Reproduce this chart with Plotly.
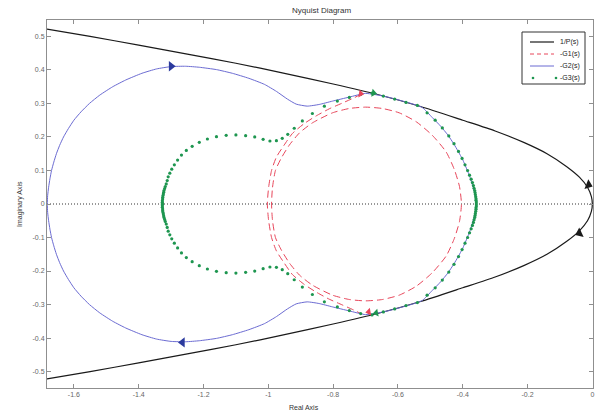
import plotly.graph_objects as go

# ---------------- text ----------------
TITLE = "Nyquist Diagram"
X_LABEL = "Real Axis"
Y_LABEL = "Imaginary Axis"
SERIES = ["1/P(s)", "-G1(s)", "-G2(s)", "-G3(s)"]

X_TICKS = [-1.6, -1.4, -1.2, -1.0, -0.8, -0.6, -0.4, -0.2, 0.0]
X_TICK_TEXT = ["-1.6", "-1.4", "-1.2", "-1", "-0.8", "-0.6", "-0.4", "-0.2", "0"]
Y_TICKS = [-0.5, -0.4, -0.3, -0.2, -0.1, 0.0, 0.1, 0.2, 0.3, 0.4, 0.5]
Y_TICK_TEXT = ["-0.5", "-0.4", "-0.3", "-0.2", "-0.1", "0", "0.1", "0.2", "0.3", "0.4", "0.5"]

# ---------------- data (positive-imaginary half; the other half is the complex conjugate) ----------------
# 1/P(s)
P_RE = [-1.683, -1.55, -1.40, -1.25, -1.10, -0.95, -0.80, -0.66, -0.53, -0.40, -0.30,
        -0.21, -0.14, -0.08, -0.04, -0.015, -0.003, 0.0]
P_IM = [0.522, 0.50, 0.474, 0.447, 0.42, 0.39, 0.358, 0.326, 0.291, 0.25, 0.218,
        0.183, 0.15, 0.112, 0.08, 0.05, 0.022, 0.0]

# -G1(s): inner loop
G1_IN_RE = [-0.99, -0.987, -0.978, -0.96, -0.935, -0.904, -0.864, -0.802, -0.75, -0.70,
            -0.648, -0.596, -0.543, -0.494, -0.451, -0.426, -0.41, -0.404]
G1_IN_IM = [0.0, 0.05, 0.10, 0.137, 0.176, 0.212, 0.242, 0.272, 0.285, 0.289,
            0.285, 0.272, 0.245, 0.205, 0.155, 0.103, 0.052, 0.0]
# -G1(s): outer arc
G1_OUT_RE = [-1.003, -0.999, -0.99, -0.975, -0.951, -0.926, -0.889, -0.852, -0.812,
             -0.772, -0.735, -0.713]
G1_OUT_IM = [0.0, 0.05, 0.10, 0.14, 0.176, 0.21, 0.24, 0.263, 0.284, 0.301, 0.317, 0.328]

# -G2(s)
G2_RE = [-1.682, -1.681, -1.678, -1.674, -1.669, -1.662, -1.654, -1.644, -1.632, -1.617,
         -1.60, -1.578, -1.552, -1.52, -1.48, -1.44, -1.39, -1.345, -1.30, -1.255,
         -1.213, -1.16, -1.111, -1.06, -1.012, -0.975, -0.941, -0.914, -0.88, -0.843,
         -0.802, -0.75, -0.70, -0.64, -0.60, -0.56, -0.525, -0.494, -0.468, -0.446,
         -0.428, -0.414, -0.40, -0.388, -0.377, -0.368, -0.361, -0.358]
G2_IM = [0.0, 0.025, 0.05, 0.075, 0.10, 0.125, 0.15, 0.175, 0.20, 0.225,
         0.25, 0.275, 0.30, 0.325, 0.35, 0.37, 0.39, 0.403, 0.41, 0.411,
         0.408, 0.401, 0.39, 0.375, 0.357, 0.336, 0.313, 0.298, 0.292, 0.297,
         0.307, 0.319, 0.33, 0.321, 0.311, 0.30, 0.288, 0.258, 0.232, 0.206,
         0.18, 0.157, 0.132, 0.105, 0.078, 0.05, 0.025, 0.0]

# -G3(s) sampled points
G3_RE = [-1.327, -1.327, -1.327, -1.326, -1.326, -1.325, -1.324, -1.323, -1.322, -1.32,
         -1.318, -1.315, -1.312, -1.309, -1.304, -1.298, -1.29, -1.28, -1.268, -1.253,
         -1.235, -1.213, -1.188, -1.16, -1.13, -1.10, -1.07, -1.042, -1.016, -0.995,
         -0.975, -0.957, -0.94, -0.92, -0.895, -0.864, -0.827, -0.787, -0.75, -0.715,
         -0.68, -0.645, -0.61, -0.575, -0.54, -0.51, -0.485, -0.463, -0.443, -0.427,
         -0.413, -0.402, -0.393, -0.385, -0.379, -0.374, -0.37, -0.367, -0.365, -0.363,
         -0.362, -0.361, -0.36, -0.359, -0.359, -0.358, -0.358]
G3_IM = [0.0, 0.005, 0.01, 0.015, 0.02, 0.025, 0.03, 0.035, 0.04, 0.046,
         0.052, 0.06, 0.07, 0.081, 0.092, 0.104, 0.117, 0.131, 0.146, 0.16,
         0.172, 0.184, 0.194, 0.201, 0.205, 0.206, 0.204, 0.20, 0.193, 0.188,
         0.189, 0.196, 0.208, 0.226, 0.248, 0.27, 0.292, 0.307, 0.318, 0.327,
         0.331, 0.322, 0.313, 0.303, 0.294, 0.272, 0.25, 0.227, 0.203, 0.18,
         0.157, 0.136, 0.117, 0.10, 0.086, 0.074, 0.064, 0.055, 0.047, 0.04,
         0.034, 0.028, 0.022, 0.016, 0.011, 0.006, 0.0]

# direction arrows (re, im) for upper and lower branch
P_ARROW_RE, P_ARROW_IM = [-0.012, -0.04], [0.057, -0.087]
G1_ARROW_RE, G1_ARROW_IM = [-0.715, -0.69], [0.329, -0.322]
G2_ARROW_RE, G2_ARROW_IM = [-1.30, -1.265], [0.411, -0.413]
G3_ARROW_RE, G3_ARROW_IM = [-0.675, -0.667], [0.331, -0.325]

X_RANGE = [-1.683, 0.002]
Y_RANGE = [-0.549, 0.549]

# ---------------- styles ----------------
C_P = "#1a1a1a"
C_G1 = "#e8465a"
C_G2 = "#6b6bd2"
C_G2_ARROW = "#2b3a9e"
C_G3 = "#1e9650"
AX = "#8f8f8f"
FONT = "Liberation Sans, Arial, sans-serif"

W, H = 601, 412
ML, MR, MT, MB = 47, 8, 20, 24
PW, PH = W - ML - MR, H - MT - MB


def loop(re, im):
    """upper half followed by its conjugate (negative frequencies)"""
    return (list(re) + list(re[::-1][1:]),
            list(im) + [-v for v in im[::-1][1:]])


def arc(re, im):
    """conjugate half reversed followed by upper half"""
    return (list(re[::-1]) + list(re[1:]),
            list(im[::-1]) + [-v for v in im[1:]])


fig = go.Figure()

px_, py_ = loop(P_RE, P_IM)
fig.add_trace(go.Scatter(x=px_, y=py_, mode="lines", name=SERIES[0],
                         line=dict(color=C_P, width=1.2, shape="spline", smoothing=0.6),
                         showlegend=False))

ox, oy = arc(G1_OUT_RE, G1_OUT_IM)
ix, iy = loop(G1_IN_RE, G1_IN_IM)
fig.add_trace(go.Scatter(x=ox + [None] + ix, y=oy + [None] + iy, mode="lines", name=SERIES[1],
                         line=dict(color=C_G1, width=1, dash="7px,4px", shape="spline", smoothing=0.6),
                         showlegend=False))

bx, by = loop(G2_RE, G2_IM)
fig.add_trace(go.Scatter(x=bx, y=by, mode="lines", name=SERIES[2],
                         line=dict(color=C_G2, width=1, shape="spline", smoothing=0.5),
                         showlegend=False))

gx, gy = loop(G3_RE, G3_IM)
fig.add_trace(go.Scatter(x=gx, y=gy, mode="markers", name=SERIES[3],
                         marker=dict(color=C_G3, size=3.2, symbol="circle", line=dict(width=0)),
                         showlegend=False))

# arrows
def arrows(re, im, color, size, angles):
    fig.add_trace(go.Scatter(x=re, y=im, mode="markers", showlegend=False, hoverinfo="skip",
                             marker=dict(symbol=["triangle-right", "triangle-left"], angle=angles,
                                         size=size, color=color, line=dict(width=0))))

arrows(P_ARROW_RE, P_ARROW_IM, C_P, 9, [22, -25])
arrows(G2_ARROW_RE, G2_ARROW_IM, C_G2_ARROW, 9, [0, 0])
arrows(G1_ARROW_RE, G1_ARROW_IM, C_G1, 7, [10, -10])
arrows(G3_ARROW_RE, G3_ARROW_IM, C_G3, 7, [10, -10])


def px2x(p):
    return (p - ML) / PW


def py2y(p):
    return (H - MB - p) / PH


shapes = [
    # real axis dotted line
    dict(type="line", xref="paper", yref="y", x0=0, x1=1, y0=0, y1=0,
         line=dict(color="#333333", width=1, dash="1px,2px"), layer="below"),
    # legend box
    dict(type="rect", xref="paper", yref="paper", x0=px2x(522), x1=px2x(585),
         y0=py2y(84), y1=py2y(32), line=dict(color="#333333", width=1), fillcolor="white"),
]
annotations = []
rows = [42, 54, 66, 78]
legend_styles = [
    dict(color=C_P, width=1.2),
    dict(color=C_G1, width=1, dash="4px,3px"),
    dict(color=C_G2, width=1),
]
for i, name in enumerate(SERIES):
    yy = py2y(rows[i])
    if i < 3:
        shapes.append(dict(type="line", xref="paper", yref="paper", x0=px2x(530), x1=px2x(554),
                           y0=yy, y1=yy, line=legend_styles[i]))
    else:
        for cx in (533, 556):
            shapes.append(dict(type="circle", xref="paper", yref="paper",
                               x0=px2x(cx - 1.3), x1=px2x(cx + 1.3),
                               y0=py2y(rows[i] + 1.3), y1=py2y(rows[i] - 1.3),
                               fillcolor=C_G3, line=dict(width=0)))
    annotations.append(dict(xref="paper", yref="paper", x=px2x(558), y=yy, text=name,
                            showarrow=False, xanchor="left", yanchor="middle",
                            font=dict(family=FONT, size=7, color="#222222")))

annotations += [
    dict(xref="paper", yref="paper", x=px2x(321), y=1, yshift=3, text=TITLE, showarrow=False,
         xanchor="center", yanchor="bottom", font=dict(family=FONT, size=8, color="#333333")),
    dict(xref="paper", yref="paper", x=px2x(304), y=py2y(407), text=X_LABEL, showarrow=False,
         xanchor="center", yanchor="middle", font=dict(family=FONT, size=7, color="#333333")),
    dict(xref="paper", yref="paper", x=px2x(20), y=py2y(204), text=Y_LABEL, showarrow=False,
         textangle=-90, xanchor="center", yanchor="middle",
         font=dict(family=FONT, size=7, color="#333333")),
]

axis_common = dict(showgrid=False, zeroline=False, showline=True, linecolor=AX, linewidth=1,
                   mirror="ticks", ticks="inside", ticklen=4, tickcolor=AX, tickwidth=1,
                   tickfont=dict(family=FONT, size=7, color="#666666"))

fig.update_layout(
    width=W, height=H,
    margin=dict(l=ML, r=MR, t=MT, b=MB),
    paper_bgcolor="white", plot_bgcolor="white",
    showlegend=False,
    shapes=shapes, annotations=annotations,
    xaxis=dict(range=X_RANGE, tickvals=X_TICKS, ticktext=X_TICK_TEXT, **axis_common),
    yaxis=dict(range=Y_RANGE, tickvals=Y_TICKS, ticktext=Y_TICK_TEXT, **axis_common),
)

fig.write_html("out.html")
